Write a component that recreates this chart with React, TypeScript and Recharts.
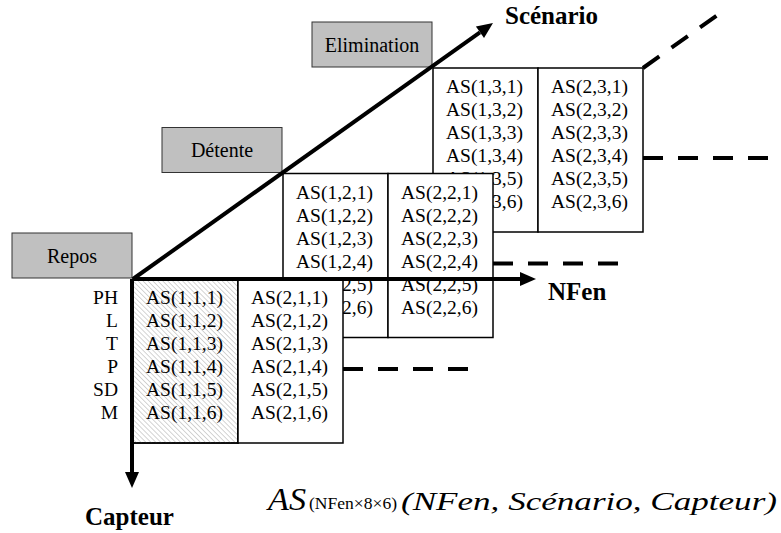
import React from 'react'
import { ComposedChart, XAxis, YAxis, ReferenceArea, ReferenceLine, ReferenceDot } from 'recharts'

// categories of the 3-D array AS(NFen, Scénario, Capteur)
const scenarios = ['Repos', 'Détente', 'Elimination']
const capteurs = ['PH', 'L', 'T', 'P', 'SD', 'M']
const fenetres = [1, 2]
const axisNames = ['NFen', 'Scénario', 'Capteur']
const formula = ['AS', '(NFen×8×6)', '(NFen, Scénario, Capteur)']

// layout (drawing units = page pixels)
const W = 781
const H = 533
const ORIGIN = { x: 133, y: 279 }
const STEP = { x: 150, y: -105.5 }
const COL_W = 105
const PANEL_H = 164
const ROW_BASE = 25
const ROW_H = 23
const BOX_W = 120
const BOX_H = 45
const DASH_Y = 90

const SERIF = "'Liberation Serif', 'Times New Roman', serif"
const serif = (extra: any = {}) => ({ fontFamily: SERIF, ...extra })

const cellShape = (lines: string[], hatched: boolean) => (p: any) => (
  <g>
    <defs>
      <pattern id="hatch" width={3.5} height={3.5} patternUnits="userSpaceOnUse" patternTransform="rotate(-45)">
        <line x1={0} y1={0} x2={0} y2={3.5} stroke="#a8a8a8" strokeWidth={1} />
      </pattern>
    </defs>
    <rect x={p.x} y={p.y} width={p.width} height={p.height} fill="#fff" stroke="#000" strokeWidth={1.5} />
    {hatched && <rect x={p.x} y={p.y} width={p.width} height={p.height} fill="url(#hatch)" stroke="#000" strokeWidth={1.5} />}
    {lines.map((t, i) => (
      <text key={i} x={p.x + p.width / 2 - 1} y={p.y + ROW_BASE + i * ROW_H} textAnchor="middle"
        style={serif({ fontSize: 19.5 })} fill="#000">{t}</text>
    ))}
  </g>
)

const boxShape = (label: string) => (p: any) => (
  <g>
    <rect x={p.x} y={p.y} width={p.width} height={p.height} fill="#c0c0c0" stroke="#333" strokeWidth={1} />
    <text x={p.x + p.width / 2} y={p.y + p.height / 2 + 7} textAnchor="middle" style={serif({ fontSize: 20 })} fill="#000">{label}</text>
  </g>
)

const arrowShape = (p: any) => {
  const dx = p.x2 - p.x1
  const dy = p.y2 - p.y1
  const len = Math.sqrt(dx * dx + dy * dy)
  const ux = dx / len
  const uy = dy / len
  const bx = p.x2 - ux * 16
  const by = p.y2 - uy * 16
  const nx = -uy * 7
  const ny = ux * 7
  return (
    <g>
      <line x1={p.x1} y1={p.y1} x2={bx} y2={by} stroke="#000" strokeWidth={4} />
      <polygon points={`${p.x2},${p.y2} ${bx + nx},${by + ny} ${bx - nx},${by - ny}`} fill="#000" />
    </g>
  )
}

const textShape = (label: string, opts: any) => (p: any) => (
  <text x={p.cx} y={p.cy} fill="#000" textAnchor={opts.textAnchor || 'start'} style={serif(opts.style)}>{label}</text>
)

const formulaShape = (p: any) => (
  <g fill="#000">
    <text x={p.cx} y={p.cy} textLength={38} lengthAdjust="spacingAndGlyphs"
      style={serif({ fontStyle: 'italic', fontSize: 32 })}>{formula[0]}</text>
    <text x={p.cx + 41} y={p.cy - 1} textLength={88} lengthAdjust="spacingAndGlyphs"
      style={serif({ fontSize: 16 })}>{formula[1]}</text>
    <text x={p.cx + 133} y={p.cy} textLength={376} lengthAdjust="spacingAndGlyphs"
      style={serif({ fontStyle: 'italic', fontSize: 26 })}>{formula[2]}</text>
  </g>
)

export default function App() {
  let z = 10
  const nextZ = () => (z += 10)
  const els: React.ReactNode[] = []

  // scenario labels (grey boxes)
  scenarios.forEach((s, si) => {
    const cx = ORIGIN.x + si * STEP.x
    const cy = ORIGIN.y + si * STEP.y
    els.push(
      <ReferenceArea key={'box' + si} x1={cx - BOX_W - 1} x2={cx - 1} y1={cy - BOX_H - 1} y2={cy - 1}
        shape={boxShape(s)} zIndex={nextZ()} ifOverflow="visible" />
    )
  })

  // panels from the back (Elimination) to the front (Repos)
  for (let si = scenarios.length - 1; si >= 0; si--) {
    const left = ORIGIN.x + si * STEP.x
    const top = ORIGIN.y + si * STEP.y
    fenetres.forEach((n, ni) => {
      const lines = capteurs.map((_, ci) => `AS(${n},${si + 1},${ci + 1})`)
      els.push(
        <ReferenceArea key={`cell${si}-${ni}`} x1={left + ni * COL_W} x2={left + (ni + 1) * COL_W}
          y1={top} y2={top + PANEL_H} shape={cellShape(lines, si === 0 && ni === 0)}
          zIndex={nextZ()} ifOverflow="visible" />
      )
    })
    const right = left + fenetres.length * COL_W
    els.push(
      <ReferenceLine key={'dh' + si} segment={[{ x: right, y: top + DASH_Y }, { x: right + 126, y: top + DASH_Y }]}
        stroke="#000" strokeWidth={4} strokeDasharray="20 15" zIndex={nextZ()} ifOverflow="visible" />
    )
    if (si === scenarios.length - 1) {
      els.push(
        <ReferenceLine key="dd" segment={[{ x: right, y: top }, { x: right + 76, y: top - 54 }]}
          stroke="#000" strokeWidth={4} strokeDasharray="20 15" zIndex={nextZ()} ifOverflow="visible" />
      )
    }
  }

  // sensor labels
  capteurs.forEach((c, ci) => {
    els.push(
      <ReferenceDot key={'cap' + ci} x={118} y={ORIGIN.y + ROW_BASE + ci * ROW_H} r={0}
        shape={textShape(c, { textAnchor: 'end', style: { fontSize: 19.5 } })} zIndex={nextZ()} ifOverflow="visible" />
    )
  })

  const bold = { style: { fontSize: 25, fontWeight: 'bold' } }

  // axes
  els.push(
    <ReferenceLine key="axN" segment={[ORIGIN, { x: 536, y: ORIGIN.y }]} shape={arrowShape} zIndex={nextZ()} ifOverflow="visible" />,
    <ReferenceLine key="axC" segment={[{ x: ORIGIN.x - 1, y: ORIGIN.y }, { x: ORIGIN.x - 1, y: 488 }]} shape={arrowShape} zIndex={nextZ()} ifOverflow="visible" />,
    <ReferenceLine key="axS" segment={[ORIGIN, { x: 493, y: 23 }]} shape={arrowShape} zIndex={nextZ()} ifOverflow="visible" />,
    <ReferenceDot key="lN" x={548} y={300} r={0} shape={textShape(axisNames[0], bold)} zIndex={nextZ()} ifOverflow="visible" />,
    <ReferenceDot key="lS" x={505} y={24} r={0} shape={textShape(axisNames[1], bold)} zIndex={nextZ()} ifOverflow="visible" />,
    <ReferenceDot key="lC" x={85} y={525} r={0} shape={textShape(axisNames[2], bold)} zIndex={nextZ()} ifOverflow="visible" />,
    <ReferenceDot key="f" x={268} y={510} r={0} shape={formulaShape} zIndex={nextZ()} ifOverflow="visible" />
  )

  return (
    <div style={{ position: 'absolute', left: 0, top: 0, background: '#fff' }}>
      <ComposedChart width={W} height={H} data={[]} margin={{ top: 0, right: 0, bottom: 0, left: 0 }}>
        <XAxis type="number" dataKey="x" domain={[0, W]} allowDataOverflow hide />
        <YAxis type="number" dataKey="y" domain={[0, H]} allowDataOverflow reversed hide />
        {els}
      </ComposedChart>
    </div>
  )
}
